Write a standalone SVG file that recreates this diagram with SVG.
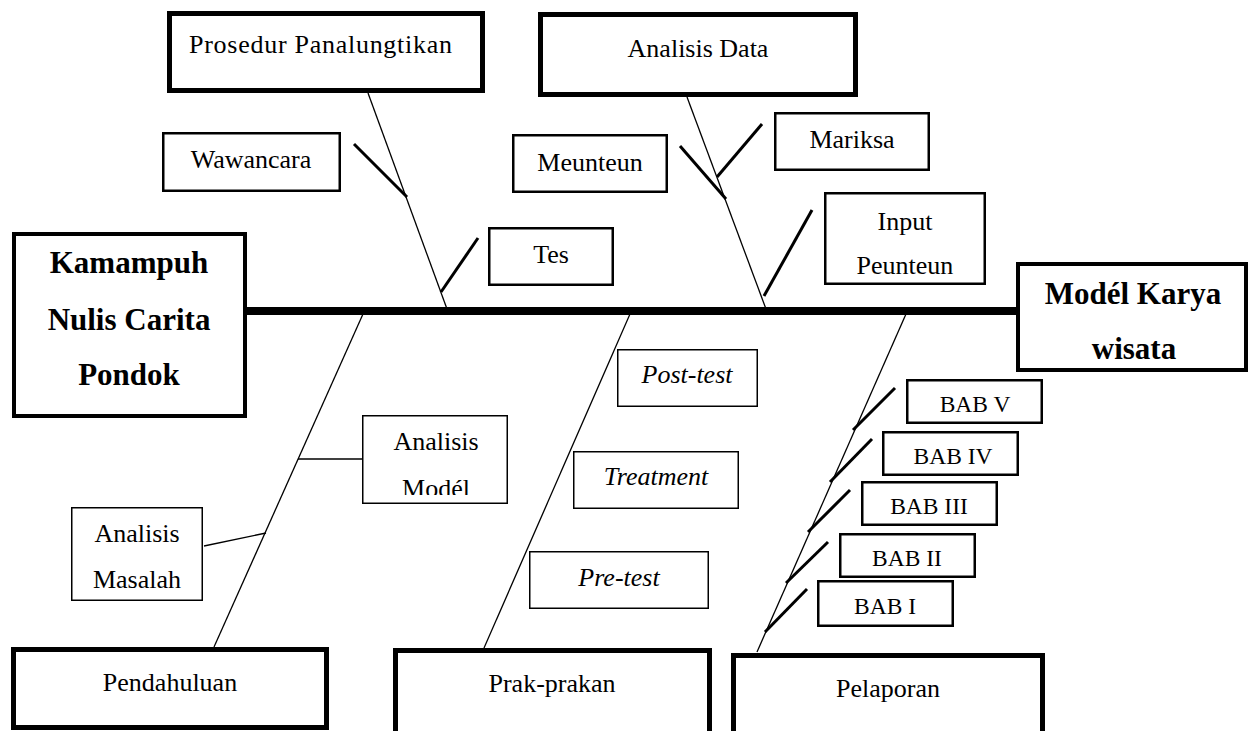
<svg xmlns="http://www.w3.org/2000/svg" width="1250" height="731" viewBox="0 0 1250 731">
<defs>
<style>
.t{font-family:"Liberation Serif","Times New Roman",serif;font-size:26px;fill:#000;text-anchor:middle}
.b{font-family:"Liberation Serif","Times New Roman",serif;font-size:31px;font-weight:bold;fill:#000;text-anchor:middle}
.i{font-style:italic}
.s{font-size:23.5px}
.bx5{fill:#fff;stroke:#000;stroke-width:5}
.bx4{fill:#fff;stroke:#000;stroke-width:4}
.bx2{fill:#fff;stroke:#000;stroke-width:2.5}
.bx1{fill:#fff;stroke:#000;stroke-width:1.5}
.ln{stroke:#000;stroke-width:1.3;fill:none}
.lt{stroke:#000;stroke-width:3;fill:none}
</style>
<clipPath id="clipModel"><rect x="362" y="415" width="146" height="80"/></clipPath>
</defs>
<rect width="1250" height="731" fill="#fff"/>
<g id="connectors">
<line x1="247" y1="311" x2="1018" y2="311" stroke="#000" stroke-width="8"/>
<line class="ln" x1="368" y1="93" x2="447" y2="309"/>
<line class="lt" x1="354" y1="144" x2="407" y2="197"/>
<line class="lt" x1="478" y1="238" x2="441" y2="292"/>
<line class="ln" x1="687" y1="97" x2="766" y2="309"/>
<line class="lt" x1="680" y1="146" x2="726" y2="199"/>
<line class="lt" x1="762" y1="124" x2="717" y2="177"/>
<line class="lt" x1="812" y1="210" x2="764" y2="296"/>
<line class="ln" x1="363" y1="314" x2="214" y2="647"/>
<line class="ln" x1="298" y1="459" x2="362" y2="459"/>
<line class="ln" x1="204" y1="546" x2="266" y2="533"/>
<line class="ln" x1="630" y1="314" x2="484" y2="648"/>
<line class="ln" x1="906" y1="314" x2="757" y2="652"/>
<line class="lt" x1="895" y1="388" x2="853" y2="430"/>
<line class="lt" x1="872" y1="439" x2="830" y2="482"/>
<line class="lt" x1="850" y1="490" x2="808" y2="532"/>
<line class="lt" x1="828" y1="542" x2="786" y2="583"/>
<line class="lt" x1="807" y1="589" x2="765" y2="632"/>
</g>
<g id="prosedur"><rect class="bx5" x="169.5" y="13.5" width="313" height="77"/><text class="t" x="320.5" y="53" textLength="263" lengthAdjust="spacing">Prosedur Panalungtikan</text></g>
<g id="analisis-data"><rect class="bx5" x="540.5" y="14.5" width="315" height="80"/><text class="t" x="698" y="57">Analisis Data</text></g>
<g id="kamampuh"><rect class="bx4" x="14" y="234" width="231" height="182"/><text class="b" x="129" y="273">Kamampuh</text><text class="b" x="129" y="330">Nulis Carita</text><text class="b" x="129" y="385">Pondok</text></g>
<g id="model-karya"><rect class="bx4" x="1018" y="264" width="228" height="106"/><text class="b" x="1133" y="304">Modél Karya</text><text class="b" x="1134" y="359">wisata</text></g>
<g id="wawancara"><rect class="bx2" x="163.25" y="133.25" width="176.5" height="57.5"/><text class="t" x="251" y="168">Wawancara</text></g>
<g id="meunteun"><rect class="bx2" x="513.25" y="135.25" width="153.5" height="56.5"/><text class="t" x="590" y="171">Meunteun</text></g>
<g id="tes"><rect class="bx2" x="489.25" y="228.25" width="123.5" height="56.5"/><text class="t" x="551" y="263">Tes</text></g>
<g id="mariksa"><rect class="bx2" x="775.25" y="113.25" width="153.5" height="56.5"/><text class="t" x="852" y="148">Mariksa</text></g>
<g id="input-peunteun"><rect class="bx2" x="825.25" y="193.25" width="159.5" height="90.5"/><text class="t" x="905" y="230">Input</text><text class="t" x="905" y="274">Peunteun</text></g>
<g id="analisis-model"><rect class="bx1" x="362.75" y="415.75" width="144.5" height="87.5"/><text class="t" x="436" y="450">Analisis</text><text class="t" x="436" y="497" clip-path="url(#clipModel)">Modél</text></g>
<g id="analisis-masalah"><rect class="bx1" x="71.75" y="507.75" width="130.5" height="92.5"/><text class="t" x="137" y="542">Analisis</text><text class="t" x="137" y="588">Masalah</text></g>
<g id="post-test"><rect class="bx1" x="617.75" y="349.75" width="139.5" height="56.5"/><text class="t i" x="687" y="383">Post-test</text></g>
<g id="treatment"><rect class="bx1" x="573.75" y="451.75" width="164.5" height="56.5"/><text class="t i" x="656" y="485">Treatment</text></g>
<g id="pre-test"><rect class="bx1" x="529.75" y="551.75" width="178.5" height="56.5"/><text class="t i" x="619" y="586">Pre-test</text></g>
<g id="pendahuluan"><rect class="bx5" x="13.5" y="649.5" width="313" height="78"/><text class="t" x="170" y="691">Pendahuluan</text></g>
<g id="prak-prakan"><rect class="bx5" x="395.5" y="650.5" width="314" height="90"/><text class="t" x="552" y="692">Prak-prakan</text></g>
<g id="pelaporan"><rect class="bx5" x="733.5" y="655.5" width="309" height="90"/><text class="t" x="888" y="697">Pelaporan</text></g>
<g id="bab-v"><rect class="bx2" x="907.25" y="380.25" width="134.5" height="42.5"/><text class="t s" x="975" y="412">BAB V</text></g>
<g id="bab-iv"><rect class="bx2" x="883.25" y="432.25" width="134.5" height="42.5"/><text class="t s" x="953" y="464">BAB IV</text></g>
<g id="bab-iii"><rect class="bx2" x="862.25" y="482.25" width="134.5" height="42.5"/><text class="t s" x="929" y="514">BAB III</text></g>
<g id="bab-ii"><rect class="bx2" x="840.25" y="534.25" width="134.5" height="42.5"/><text class="t s" x="907" y="566">BAB II</text></g>
<g id="bab-i"><rect class="bx2" x="818.25" y="581.25" width="134.5" height="44.5"/><text class="t s" x="885" y="614">BAB I</text></g>
</svg>
